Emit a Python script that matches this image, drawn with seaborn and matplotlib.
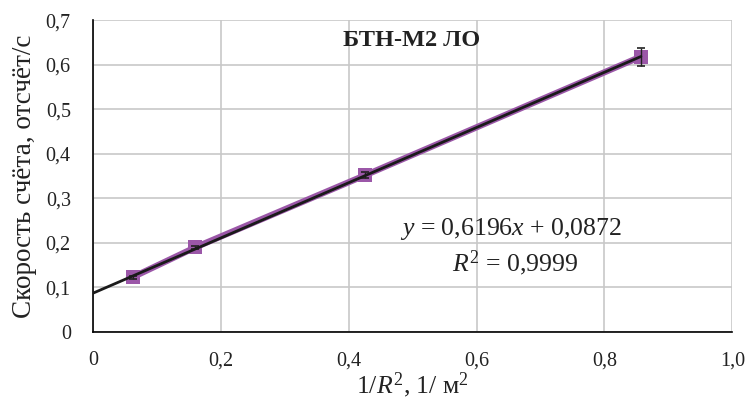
import numpy as np
import pandas as pd
import matplotlib
matplotlib.use("Agg")
import matplotlib.pyplot as plt
import seaborn as sns

# Measured count rate vs inverse squared distance
inv_r2 = [0.062, 0.160, 0.426, 0.857]
rate = [0.123, 0.190, 0.352, 0.618]
rate_err = [0.003, 0.004, 0.006, 0.020]

# Linear fit parameters
slope = 0.6196
intercept = 0.0872
r_squared = "0,9999"

x_ticks = [0, 0.2, 0.4, 0.6, 0.8, 1.0]
x_ticklabels = ["0", "0,2", "0,4", "0,6", "0,8", "1,0"]
y_ticks = [0, 0.1, 0.2, 0.3, 0.4, 0.5, 0.6, 0.7]
y_ticklabels = ["0", "0,1", "0,2", "0,3", "0,4", "0,5", "0,6", "0,7"]

sns.set_theme(style="white")
plt.rcParams["font.family"] = ["Liberation Serif", "DejaVu Serif"]
plt.rcParams["mathtext.fontset"] = "custom"
plt.rcParams["mathtext.rm"] = "Liberation Serif"
plt.rcParams["mathtext.it"] = "Liberation Serif:italic"
plt.rcParams["mathtext.bf"] = "Liberation Serif:bold"

purple = "#9b57a8"
ink = "#222222"

fig = plt.figure(figsize=(7.46, 4.01), dpi=100)
ax = fig.add_axes([0.1247, 0.172, 0.857, 0.778])

df = pd.DataFrame({"x": inv_r2, "y": rate})
sns.lineplot(data=df, x="x", y="y", ax=ax, color=purple, linewidth=4.5, zorder=3)
sns.scatterplot(data=df, x="x", y="y", ax=ax, color=purple, marker="s", s=90,
                edgecolor=purple, linewidth=0, zorder=4)
ax.errorbar(inv_r2, rate, yerr=rate_err, fmt="none", ecolor=ink,
            elinewidth=1.0, capsize=3, capthick=1.2, zorder=5)

fit_x = np.array([0.0, inv_r2[-1]])
ax.plot(fit_x, slope * fit_x + intercept, color="#1a1a1a", linewidth=2.0, zorder=6)

ax.set_xlim(0, 1.0)
ax.set_ylim(0, 0.7)
ax.set_xticks(x_ticks)
ax.set_xticklabels(x_ticklabels)
ax.set_yticks(y_ticks)
ax.set_yticklabels(y_ticklabels)
ax.tick_params(axis="both", direction="inout", length=10, width=1, color="black",
               labelsize=14.5, labelcolor=ink)
ax.tick_params(axis="y", pad=11)
ax.tick_params(axis="x", pad=9)

ax.grid(True, color="#c8c8c8", linewidth=1.2)
ax.set_axisbelow(True)
for side in ["top", "right"]:
    ax.spines[side].set_visible(False)
for side in ["left", "bottom"]:
    ax.spines[side].set_color("black")
    ax.spines[side].set_linewidth(1.2)

ax.set_xlabel("1/$R^2$, 1/ м$^2$", fontsize=18.5, color=ink, labelpad=0)
ax.set_ylabel("Скорость счёта, отсчёт/с", fontsize=19.5, color=ink, labelpad=6)

ax.text(0.499, 0.655, "БТН-М2 ЛО", fontsize=17.5, fontweight="bold", color=ink,
        ha="center", va="center")
ax.text(0.654, 0.231, "$y$ = 0,6196$x$ + 0,0872", fontsize=18.5, color=ink,
        ha="center", va="center")
ax.text(0.661, 0.155, "$R^2$ = " + r_squared, fontsize=18.5, color=ink,
        ha="center", va="center")

fig.savefig("out.png", dpi=100)
